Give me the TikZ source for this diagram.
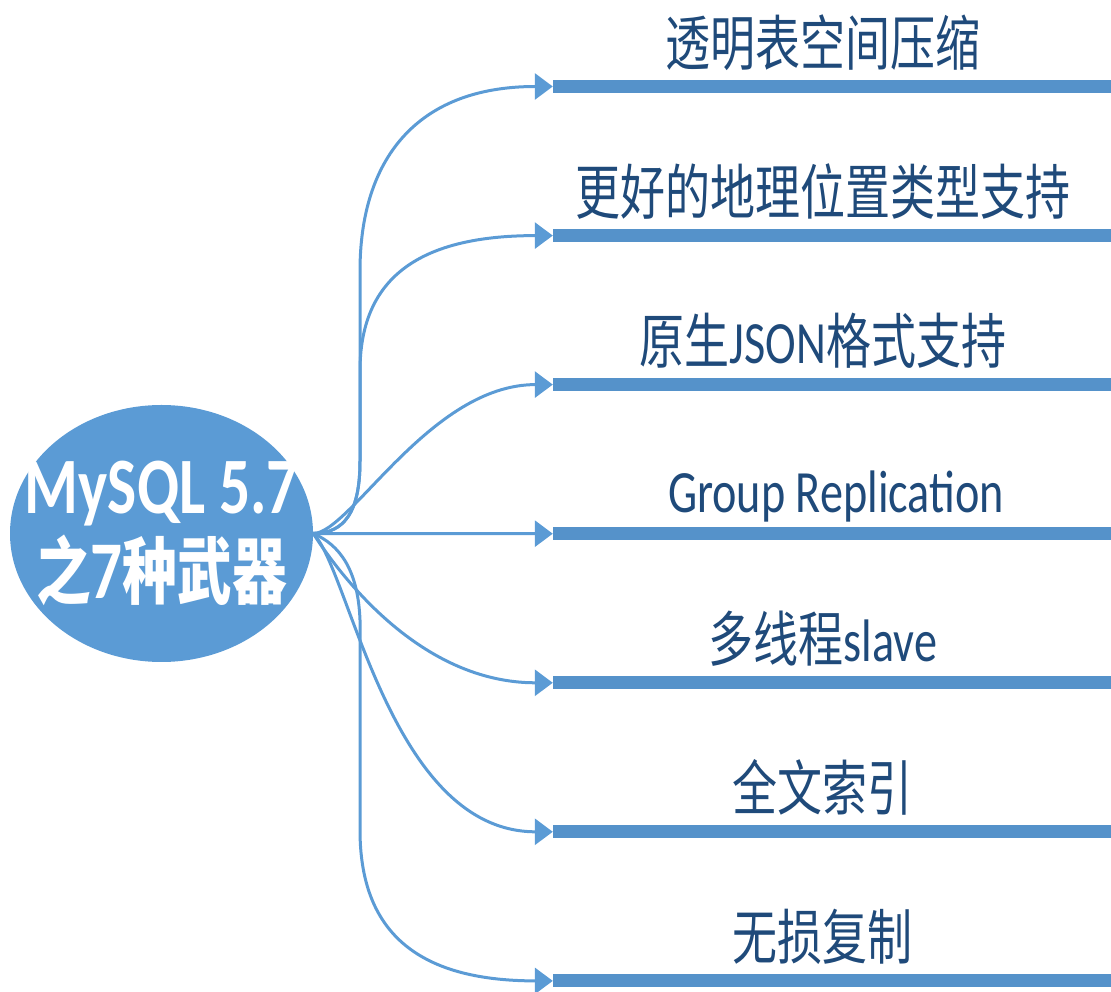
\documentclass[tikz,border=0pt]{standalone}
\usepackage{fontspec}
\setmainfont[FakeStretch=0.77]{Carlito}
\newfontfamily\cjk[FakeStretch=0.75]{Noto Sans CJK SC}
\usetikzlibrary{arrows.meta,shapes.geometric}
\definecolor{mmblue}{HTML}{5B9BD5}
\definecolor{barblue}{HTML}{5592CA}
\definecolor{inkblue}{HTML}{1F4A7A}
\tikzset{
  root/.style={ellipse, fill=mmblue, text=white, inner sep=-60pt,
    minimum width=303pt, minimum height=257pt, align=center, font=\bfseries},
  bar/.style={fill=barblue, inner sep=0pt, minimum width=558pt, minimum height=13pt},
  feature/.style={anchor=base, text=inkblue, inner sep=0pt,
    font=\fontsize{60}{70}\selectfont},
  branch/.style={mmblue, line width=3pt, -{Triangle[length=18pt,width=26pt]}}
}
\begin{document}
\begin{tikzpicture}[x=1pt,y=1pt]
  \useasboundingbox (0,0) rectangle (1111,991);
  \node[root] (root) at (161.5,457.5)
    {\fontsize{80}{90}\selectfont MySQL 5.7\\[8pt]
     \fontsize{73}{80}\selectfont{\cjk\bfseries 之}{\fontsize{82}{80}\selectfont 7}{\cjk\bfseries 种武器}};
  \node[bar] (b1) at (832,904.5) {};
  \node[bar] (b2) at (832,755.4) {};
  \node[bar] (b3) at (832,606.4) {};
  \node[bar] (b4) at (832,457.3) {};
  \node[bar] (b5) at (832,308.2) {};
  \node[bar] (b6) at (832,159.2) {};
  \node[bar] (b7) at (832,10.1) {};
  \node[feature] (t1) at (823,925.5) {\cjk 透明表空间压缩};
  \node[feature] (t2) at (823,776.4) {\cjk 更好的地理位置类型支持};
  \node[feature] (t3) at (823,627.4) {{\cjk 原生}JSON{\cjk 格式支持}};
  \node[feature] (t4) at (836,478.0) {Group Replication};
  \node[feature] (t5) at (823,329.2) {{\cjk 多线程}slave};
  \node[feature] (t6) at (822,180.2) {\cjk 全文索引};
  \node[feature] (t7) at (822,31.1) {\cjk 无损复制};
  \begin{scope}[branch]
    \draw (root.east) .. controls (345,457.5) and (360,480) .. (360,530)
      -- (360,720) .. controls (360,830) and (415,904.5) .. (b1.west);
    \draw (root.east) .. controls (345,457.5) and (360,480) .. (360,530)
      -- (360,620) .. controls (360,710) and (415,755.4) .. (b2.west);
    \draw (root.east) .. controls (350,457.5) and (430,606.4) .. (b3.west);
    \draw (root.east) -- (b4.west);
    \draw (root.east) .. controls (340,416) and (420,308.2) .. (b5.west);
    \draw (root.east) .. controls (350,421) and (390,159.2) .. (b6.west);
    \draw (root.east) .. controls (340,446) and (358,421) .. (360,371)
      -- (360,161) .. controls (360,61) and (415,10.1) .. (b7.west);
  \end{scope}
\end{tikzpicture}
\end{document}
